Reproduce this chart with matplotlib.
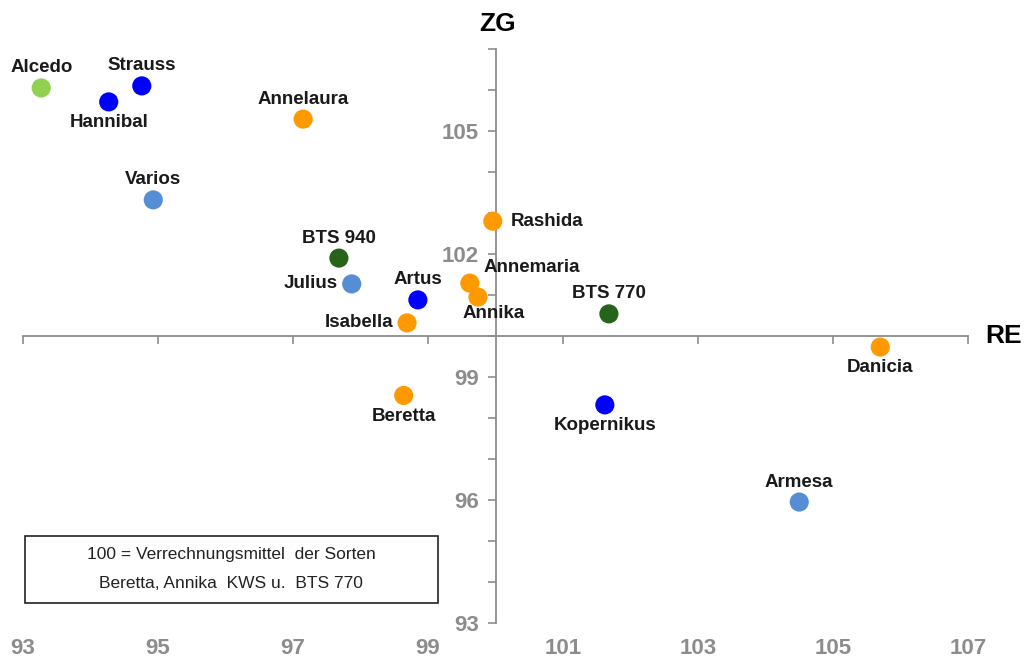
import matplotlib
matplotlib.use("Agg")
import matplotlib.pyplot as plt
from matplotlib.patches import Rectangle

# ---- data ----
names = ["Alcedo", "Strauss", "Hannibal", "Annelaura", "Varios", "Rashida",
         "BTS 940", "Julius", "Annemaria", "Artus", "Annika", "BTS 770",
         "Isabella", "Danicia", "Beretta", "Kopernikus", "Armesa"]
re_vals = [93.27, 94.76, 94.27, 97.15, 94.93, 99.96,
           97.68, 97.87, 99.62, 98.85, 99.74, 101.68,
           98.69, 105.70, 98.64, 101.62, 104.50]
zg_vals = [106.05, 106.10, 105.71, 105.29, 103.32, 102.80,
           101.90, 101.27, 101.29, 100.88, 100.95, 100.54,
           100.32, 99.73, 98.55, 98.32, 95.95]
groups = ["lgreen", "blue", "blue", "orange", "lblue", "orange",
          "dgreen", "lblue", "orange", "blue", "orange", "dgreen",
          "orange", "orange", "orange", "blue", "lblue"]
label_pos = ["above", "above", "below", "above", "above", "right",
             "above", "left", "upright", "above", "downright", "above",
             "left", "below", "below", "below", "above"]
x_ticks = [93, 95, 97, 99, 101, 103, 105, 107]
y_labeled = [93, 96, 99, 102, 105]
note_lines = ["100 = Verrechnungsmittel  der Sorten", "Beretta, Annika  KWS u.  BTS 770"]

palette = {"orange": "#FF9900", "blue": "#0000FF", "lblue": "#558ED5",
           "dgreen": "#26641A", "lgreen": "#92D050"}

plt.rcParams['font.family'] = ['Liberation Sans', 'DejaVu Sans']

fig = plt.figure(figsize=(10.25, 6.67), dpi=100)
ax = fig.add_axes([23 / 1025, 1 - 623 / 667, 945 / 1025, 574 / 667])
ax.set_xlim(93, 107)
ax.set_ylim(93, 107)
ax.patch.set_alpha(0)

axis_col = "#8C8C8C"
for s in ["top", "right"]:
    ax.spines[s].set_visible(False)
ax.spines["left"].set_position(("data", 100))
ax.spines["bottom"].set_position(("data", 100))
for s in ["left", "bottom"]:
    ax.spines[s].set_color(axis_col)
    ax.spines[s].set_linewidth(1.3)

ax.set_xticks(x_ticks)
ax.set_xticklabels([])
ax.tick_params(axis="x", direction="out", length=6, width=1.2, color=axis_col)
ax.set_yticks(y_labeled)
ax.set_yticks(range(93, 108), minor=True)
ax.tick_params(axis="y", which="both", direction="out", length=6, width=1.2,
               color=axis_col, labelsize=16, labelcolor="#8C8C8C", pad=6)
for t in ax.get_yticklabels():
    t.set_fontweight("bold")

for x in x_ticks:
    ax.text(x, -0.044, str(x), transform=ax.get_xaxis_transform(),
            ha="center", va="center", fontsize=16, fontweight="bold", color="#8C8C8C")

ax.text(100.03, 107.6, "ZG", ha="center", va="center", fontsize=19, fontweight="bold",
        color="black", clip_on=False)
ax.text(107.52, 100.0, "RE", ha="center", va="center", fontsize=19, fontweight="bold",
        color="black", clip_on=False)

ax.scatter(re_vals, zg_vals, s=190, c=[palette[g] for g in groups], zorder=3,
           linewidths=0)

offsets = {"above": (0, 14.4, "center", "center"),
           "below": (0, -15, "center", "center"),
           "left": (-10, 0, "right", "center"),
           "right": (13, 0, "left", "center"),
           "upright": (10, 11, "left", "center"),
           "downright": (11, -11.5, "center", "center")}
for n, x, y, p in zip(names, re_vals, zg_vals, label_pos):
    dx, dy, ha, va = offsets[p]
    ax.annotate(n, (x, y), xytext=(dx, dy), textcoords="offset points",
                ha=ha, va=va, fontsize=13.5, fontweight="bold", color="#1A1A1A", zorder=4)

# note box
box = Rectangle((25 / 1025, 1 - 603 / 667), 413 / 1025, 67 / 667,
                transform=fig.transFigure, facecolor="white", edgecolor="#222222",
                linewidth=1.2)
fig.patches.append(box)
fig.text(231 / 1025, 1 - 554 / 667, note_lines[0], ha="center", va="center",
         fontsize=12.5, family=["Liberation Sans Narrow", "Liberation Sans"], color="#222222")
fig.text(231 / 1025, 1 - 584 / 667, note_lines[1], ha="center", va="center",
         fontsize=12.5, family=["Liberation Sans Narrow", "Liberation Sans"], color="#222222")

fig.savefig("out.png", dpi=100)
